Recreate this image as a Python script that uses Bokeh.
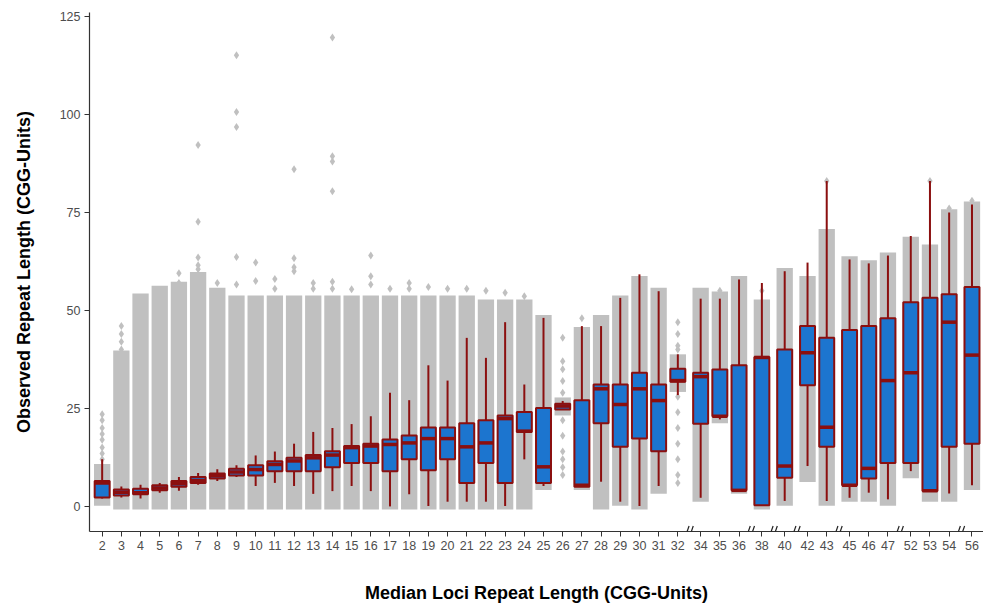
from bokeh.plotting import figure
from bokeh.models import FixedTicker, CustomJSTickFormatter, Range1d, ColumnDataSource, Arrow
from bokeh.embed import file_html
from bokeh.resources import INLINE

# ---------------- data ----------------
categories = list(range(2, 33)) + [34, 35, 36, 38, 40, 42, 43, 45, 46, 47, 52, 53, 54, 56]
breaks_after = [32, 36, 38, 40, 43, 47, 54]

whisk_lo = [2, 2.3, 2, 3.5, 4, 5.5, 6.5, 7.5, 5.2, 6, 5.2, 3.2, 3.9, 5.2, 3.9, 0, 3.1, 0.1, 1.2, 1.2, 1.2,
            0.1, 12, 5.2, 24.7, 5.0, 6.3, 1.2, 0.1, 5.2, 28.4, 2.2, 22.2, 4.1, 0.3, 1.4, 10.3, 1.4, 2.2,
            3.5, 1.8, 9, 3.9, 3.3, 5.4]
q1 = [2.3, 2.8, 3.1, 4.1, 5.0, 6.0, 7.1, 7.9, 7.9, 9.0, 9.0, 9.0, 10.0, 11.1, 11.1, 9.0, 12.0, 9.2, 12.0,
      6.0, 11.1, 6.0, 19.0, 6.0, 24.7, 5.0, 21.2, 15.2, 17.3, 14.1, 31.8, 21.1, 23.0, 4.1, 0.3, 7.3,
      30.9, 15.2, 5.4, 7.1, 11.1, 11.1, 3.9, 15.2, 16.0]
median = [6.0, 3.6, 3.5, 4.7, 5.8, 6.6, 7.8, 8.8, 9.4, 10.7, 11.6, 12.4, 13.1, 15.0, 15.4, 15.8, 16.2,
          17.3, 17.3, 15.2, 16.2, 22.4, 19.2, 10.1, 25.6, 5.4, 30.0, 26.0, 30.0, 27.0, 32.1, 33.1, 23.0,
          4.1, 38.0, 10.3, 39.2, 20.2, 5.4, 9.7, 32.1, 34.1, 4.0, 47.0, 38.6]
q3 = [6.5, 4.3, 4.5, 5.4, 6.5, 7.5, 8.4, 9.6, 10.5, 11.5, 12.4, 13.1, 14.1, 15.4, 16.0, 17.1, 18.1,
      20.1, 20.1, 21.2, 22.0, 23.2, 24.1, 25.1, 26.2, 27.1, 31.1, 31.1, 34.1, 31.1, 35.1, 34.1, 34.9,
      36.0, 38.1, 40.0, 46.0, 43.0, 45.0, 46.0, 48.0, 52.1, 53.2, 54.1, 56.0]
whisk_hi = [12, 5.1, 5.5, 6, 7.5, 8.5, 9.5, 10.5, 13, 14, 16, 19, 20, 21, 23, 29, 27.1, 36, 32.1, 43,
            37.9, 47, 31.1, 48.1, 26.9, 46, 46, 53.2, 59.2, 54.9, 38.8, 53, 53, 57.9, 57, 60, 62.2, 83,
            63, 62, 64, 69, 83, 75, 77]

# dense cloud of observations per locus group (lower / upper extent)
cloud_lo = [1, 0, 0, 0, 0, 0, 0, 0, 0, 0, 0, 0, 0, 0, 0, 0, 0, 0, 0, 0, 0, 0, 0, 5, 24, 5, 0, 1, 0, 4,
            30, 2, 22, 4, 0, 1, 7, 1, 2, 2, 1, 8, 2, 2, 5]
cloud_hi = [10, 39, 53.5, 55.5, 56.5, 59, 55, 53, 53, 53, 53, 53, 53, 53, 53, 53, 53, 53, 53, 53, 52,
            52, 52, 48, 27, 45, 48, 53, 58, 55, 38, 55, 54, 58, 52, 60, 58, 70, 63, 62, 64, 68, 66,
            75, 77]

# isolated observations
outlier_cat = ([2] * 8 + [3] * 4 + [6] * 2 + [7] * 5 + [8] + [9] * 5 + [10] * 2 + [11] * 2 + [12] * 4 +
               [13] * 2 + [14] * 6 + [15] + [16] * 3 + [17] + [18] * 2 + [19, 20, 21, 22, 23, 24] +
               [26] * 11 + [27] + [32] * 12 + [35, 38, 43, 53, 54, 56])
outlier_val = ([23.5, 22, 20, 18.5, 17, 15, 13.5, 12] + [46, 44, 42, 40] + [59.5, 57] +
               [92.2, 72.6, 63.5, 61.5, 60.5] + [57] + [115.1, 100.6, 96.8, 63.6, 56.6] + [62.2, 57.5] +
               [58, 55.5] + [86, 63.3, 61, 60] + [57, 55.5] + [119.6, 89.3, 88, 80.4, 57.3, 55.5] +
               [55.4] + [64, 58.7, 56.6] + [55.5] + [57, 55.5] + [56, 55.5, 55.5, 55, 54.5, 53.6] +
               [43, 37, 35, 32, 29, 22, 18, 14, 12, 10, 8] + [48] +
               [47, 44, 41, 40, 38, 28, 24, 20, 16, 12, 8, 6] + [55, 55, 83, 83, 76, 78])

y_ticks = [0, 25, 50, 75, 100, 125]

# ---------------- layout of the discrete axis ----------------
Y0 = -6.4
pos = []
cur = 0.0
for c in categories:
    pos.append(round(cur, 3))
    cur += 1.19 if c in breaks_after else 1.0
pos_of = dict(zip(categories, pos))
break_x = [(pos_of[c] + pos[categories.index(c) + 1]) / 2 for c in breaks_after]

GRAY = "#C0C0C0"
BLUE = "#1C75CF"
RED = "#8B0F0F"

p = figure(frame_width=894, frame_height=519, output_backend="svg", toolbar_location=None,
           x_range=Range1d(-0.66, pos[-1] + 0.6), y_range=Range1d(Y0, 126),
           min_border_left=89, min_border_right=0, min_border_top=12, min_border_bottom=72)
p.outline_line_color = None
p.xgrid.visible = False
p.ygrid.visible = False
p.background_fill_color = "white"
p.border_fill_color = "white"

# observation clouds
cloud = ColumnDataSource(dict(x=pos, lo=[v - 0.8 for v in cloud_lo], hi=[v + 0.8 for v in cloud_hi]))
p.vbar(x="x", bottom="lo", top="hi", width=0.85, source=cloud, fill_color=GRAY, line_color=None)

out = ColumnDataSource(dict(x=[pos_of[c] for c in outlier_cat], y=outlier_val))
p.scatter(x="x", y="y", source=out, marker="diamond", size=8, fill_color=GRAY, line_color=None)

# boxplots
bx = ColumnDataSource(dict(x=pos, lo=whisk_lo, q1=q1, med=median, q3=q3, hi=whisk_hi,
                           left=[x - 0.39 for x in pos], right=[x + 0.39 for x in pos]))
p.segment(x0="x", y0="lo", x1="x", y1="hi", source=bx, line_color=RED, line_width=2)
p.quad(left="left", right="right", bottom="q1", top="q3", source=bx,
       fill_color=BLUE, line_color=RED, line_width=2)
p.segment(x0="left", y0="med", x1="right", y1="med", source=bx, line_color=RED, line_width=3.5)

# axes
FONT = "Liberation Sans"
for ax in (p.xaxis[0], p.yaxis[0]):
    ax.axis_line_color = "#333333"
    ax.axis_line_width = 1.2
    ax.major_tick_line_color = "#333333"
    ax.major_tick_in = 0
    ax.major_tick_out = 5
    ax.minor_tick_line_color = None
    ax.major_label_text_font = FONT
    ax.major_label_text_font_size = "12.5px"
    ax.major_label_text_color = "#4D4D4D"
    ax.axis_label_text_font = FONT
    ax.axis_label_text_font_style = "bold"
    ax.axis_label_text_font_size = "18px"
    ax.axis_label_text_color = "black"

p.xaxis.ticker = FixedTicker(ticks=pos)
p.xaxis.formatter = CustomJSTickFormatter(
    args=dict(tick_pos=pos, tick_labels=[str(c) for c in categories]), code="""
    for (let i = 0; i < tick_pos.length; i++) {
        if (Math.abs(tick_pos[i] - tick) < 1e-6) return tick_labels[i];
    }
    return "";
""")
p.xaxis.axis_label = "Median Loci Repeat Length (CGG-Units)"
p.xaxis.axis_label_standoff = 30
p.xaxis.major_label_standoff = 4

p.yaxis.ticker = FixedTicker(ticks=y_ticks)
p.yaxis.axis_label = "Observed Repeat Length (CGG-Units)"
p.yaxis.axis_label_standoff = 23
p.yaxis.major_label_standoff = 4

# axis break marks "//" drawn as two short slanted strokes across the axis line
bx0, by0, bx1, by1 = [], [], [], []
for xb in break_x:
    for k in (-0.11, 0.11):
        bx0.append(xb + k - 0.1)
        by0.append(Y0 - 1.4)
        bx1.append(xb + k + 0.1)
        by1.append(Y0 + 1.4)
brk = ColumnDataSource(dict(x0=bx0, y0=by0, x1=bx1, y1=by1))
p.add_layout(Arrow(end=None, start=None, source=brk, x_start="x0", y_start="y0", x_end="x1", y_end="y1",
                   line_color="#222222", line_width=1.2))

open("out.html", "w").write(file_html(p, INLINE))
